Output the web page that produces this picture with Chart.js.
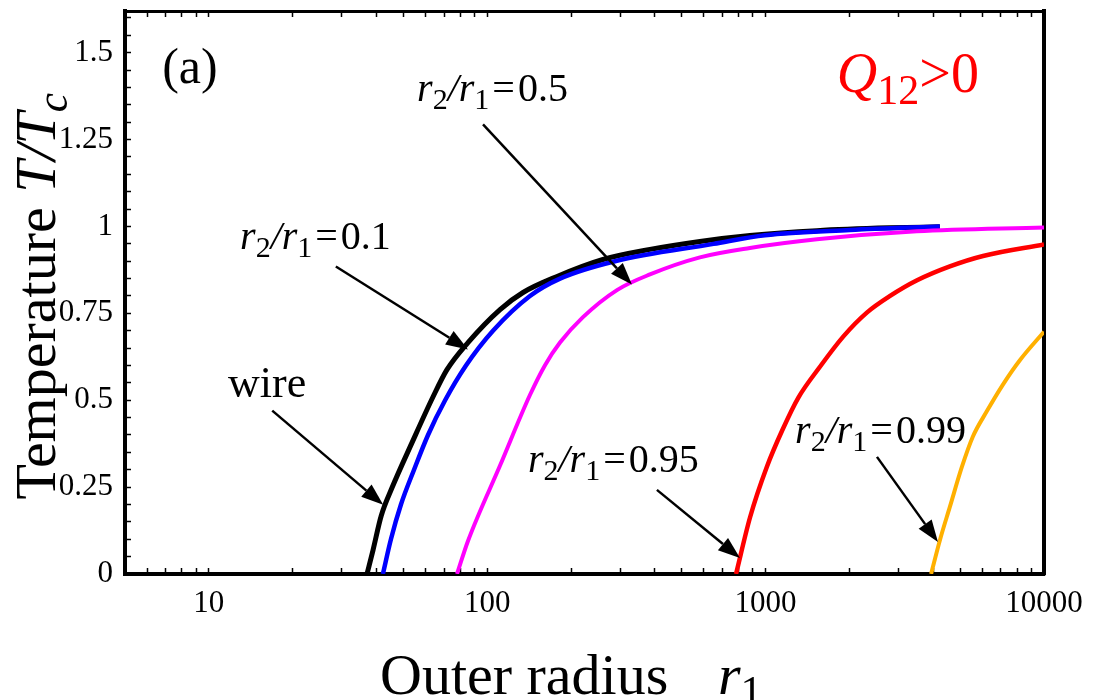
<!DOCTYPE html>
<html>
<head>
<meta charset="utf-8">
<title>Temperature vs outer radius</title>
<script src="https://cdn.jsdelivr.net/npm/chart.js@4.4.0/dist/chart.umd.min.js"></script>
<style>
  html, body { margin: 0; padding: 0; background: #fff; }
  #wrap { width: 1094px; height: 700px; }
</style>
</head>
<body>
<div id="wrap"><canvas id="tempChart" width="1094" height="700"></canvas></div>
<script>
// outer radius r1 and reduced temperature T/Tc along each curve
var wireR = [37.0, 38.9, 41.6, 45.5, 53.7, 63.9, 71.7, 85.3, 111.2, 134.5, 178.1, 260.5, 384.2, 580.8, 878.5, 1529, 2784, 4225];
var wireT = [0, 0.069, 0.167, 0.248, 0.378, 0.510, 0.588, 0.666, 0.761, 0.810, 0.856, 0.905, 0.934, 0.957, 0.974, 0.988, 0.996, 0.999];

var r01R = [42.2, 45.1, 49.0, 54.6, 61.3, 70.6, 83.9, 104.9, 142.4, 182.6, 287.7, 650, 994, 2010, 4225];
var r01T = [0, 0.1, 0.2, 0.3, 0.4, 0.5, 0.6, 0.7, 0.8, 0.85, 0.9, 0.95, 0.975, 0.99, 1.0];

var r05R = [77.9, 85.3, 111.2, 142.4, 161.3, 182.6, 220.8, 292.5, 384.2, 580.8, 878.5, 1529, 3493, 10000];
var r05T = [0, 0.095, 0.312, 0.515, 0.601, 0.666, 0.739, 0.817, 0.862, 0.911, 0.938, 0.963, 0.986, 0.997];

var r095R = [783, 880, 1010, 1150, 1310, 1570, 1900, 2310, 2800, 3500, 4590, 6040, 10000];
var r095T = [0, 0.164, 0.308, 0.415, 0.507, 0.597, 0.683, 0.752, 0.800, 0.845, 0.885, 0.915, 0.948];

var r099R = [3930, 4230, 4590, 5070, 5550, 6230, 7120, 8190, 10000];
var r099T = [0, 0.098, 0.193, 0.308, 0.395, 0.468, 0.545, 0.615, 0.697];

// labelled ticks
var xMajorTicks = [10, 100, 1000, 10000];
var xTickLabels = ['10', '100', '1000', '10000'];
var yMajorTicks = [0, 0.25, 0.5, 0.75, 1, 1.25, 1.5];
var yTickLabels = ['0', '0.25', '0.5', '0.75', '1', '1.25', '1.5'];

// minor tick marks: 5..9, then 1..9 per decade up to 10000; every 0.05 on T
var xTickValues = [5, 6, 7, 8, 9];
[10, 100, 1000].forEach(function (d) {
  for (var k = 1; k <= 9; k++) xTickValues.push(k * d);
});
xTickValues.push(10000);
var yTickValues = [];
for (var j = 0; j <= 32; j++) yTickValues.push(Math.round(j * 5) / 100);

function pts(rs, ts) {
  return rs.map(function (r, i) { return { x: r, y: ts[i] }; });
}

function labelFor(v, majors, labels) {
  for (var i = 0; i < majors.length; i++) {
    if (Math.abs(v - majors[i]) < 1e-6 * Math.max(1, majors[i])) return labels[i];
  }
  return '';
}

var SERIF = '"Liberation Serif", "Times New Roman", serif';

// text made of runs: italic, subscript, extra gap after
function drawRich(ctx, x, y, parts, size, color) {
  var cx = x;
  ctx.fillStyle = color;
  ctx.textAlign = 'left';
  ctx.textBaseline = 'alphabetic';
  parts.forEach(function (p) {
    var fs = p.sub ? size * 0.75 : size;
    ctx.font = (p.it ? 'italic ' : '') + fs + 'px ' + SERIF;
    ctx.fillText(p.t, cx, y + (p.sub ? size * 0.2 : 0));
    cx += ctx.measureText(p.t).width + (p.gap || 0);
  });
}

function ratioParts(v) {
  return [
    { t: 'r', it: true }, { t: '2', sub: true }, { t: '/', it: true },
    { t: 'r', it: true }, { t: '1', sub: true, gap: 3 }, { t: '=', gap: 3 }, { t: v }
  ];
}

function drawArrow(ctx, x1, y1, x2, y2) {
  var ang = Math.atan2(y2 - y1, x2 - x1);
  var len = 22, half = 8;
  var bx = x2 - len * Math.cos(ang), by = y2 - len * Math.sin(ang);
  ctx.strokeStyle = '#000';
  ctx.lineWidth = 2.5;
  ctx.beginPath();
  ctx.moveTo(x1, y1);
  ctx.lineTo(bx, by);
  ctx.stroke();
  ctx.fillStyle = '#000';
  ctx.beginPath();
  ctx.moveTo(x2, y2);
  ctx.lineTo(bx + half * Math.sin(ang), by - half * Math.cos(ang));
  ctx.lineTo(bx - half * Math.sin(ang), by + half * Math.cos(ang));
  ctx.closePath();
  ctx.fill();
}

// labels with arrows, placed in data coordinates (r1, T/Tc)
var notes = [
  { parts: [{ t: 'wire' }], size: 44, at: [11.73, 0.510], tail: [16.9, 0.470], tip: [42.3, 0.199] },
  { parts: ratioParts('0.1'), size: 40, at: [12.95, 0.934], tail: [28.6, 0.885], tip: [85.3, 0.646] },
  { parts: ratioParts('0.5'), size: 40, at: [56.0, 1.360], tail: [96.6, 1.294], tip: [331, 0.833] },
  { parts: ratioParts('0.95'), size: 40, at: [140, 0.294], tail: [407, 0.242], tip: [809, 0.046] },
  { parts: ratioParts('0.99'), size: 40, at: [1276, 0.378], tail: [2512, 0.337], tip: [4160, 0.092] }
];

var annotate = {
  id: 'annotate',
  afterDatasetsDraw: function (chart) {
    var ctx = chart.ctx, xs = chart.scales.x, ys = chart.scales.y;
    var px = function (v) { return xs.getPixelForValue(v); };
    var py = function (v) { return ys.getPixelForValue(v); };
    ctx.save();
    notes.forEach(function (n) {
      drawRich(ctx, px(n.at[0]), py(n.at[1]), n.parts, n.size, '#000');
      drawArrow(ctx, px(n.tail[0]), py(n.tail[1]), px(n.tip[0]), py(n.tip[1]));
    });
    drawRich(ctx, px(6.8), py(1.412), [{ t: '(a)' }], 50, '#000');
    drawRich(ctx, px(1803), py(1.386),
      [{ t: 'Q', it: true }, { t: '12', sub: true }, { t: '>0' }], 56, '#ff0000');

    // axis titles
    var area = chart.chartArea;
    drawRich(ctx, 380, 694, [{ t: 'Outer radius' }], 58, '#000');
    drawRich(ctx, 718, 694, [{ t: 'r', it: true }, { t: '1', sub: true }], 58, '#000');
    ctx.translate(55, (area.top + area.bottom) / 2 + 207);
    ctx.rotate(-Math.PI / 2);
    drawRich(ctx, 0, 0, [{ t: 'Temperature ' }, { t: 'T/T', it: true }, { t: 'c', it: true, sub: true }], 58, '#000');
    ctx.restore();
  }
};

function line(label, rs, ts, color, width, order) {
  return {
    label: label, data: pts(rs, ts), borderColor: color, backgroundColor: color,
    borderWidth: width, pointRadius: 0, fill: false, tension: 0,
    cubicInterpolationMode: 'monotone', order: order
  };
}

// the frame is fixed, so drop the label overhang Chart.js reserves
function noOverhang(s) {
  s.paddingTop = 0; s.paddingBottom = 0; s.paddingLeft = 0; s.paddingRight = 0;
}

var tickFont = { family: SERIF, size: 31 };

new Chart(document.getElementById('tempChart'), {
  type: 'line',
  data: {
    datasets: [
      line('wire', wireR, wireT, '#000000', 5, 5),
      line('r2/r1=0.1', r01R, r01T, '#0000ff', 4.5, 4),
      line('r2/r1=0.5', r05R, r05T, '#ff00ff', 4, 3),
      line('r2/r1=0.95', r095R, r095T, '#ff0000', 4.5, 2),
      line('r2/r1=0.99', r099R, r099T, '#ffb000', 4, 1)
    ]
  },
  options: {
    responsive: false,
    devicePixelRatio: 1,
    animation: false,
    layout: { padding: 0, autoPadding: false },
    plugins: { legend: { display: false }, tooltip: { enabled: false } },
    scales: {
      x: {
        type: 'logarithmic', position: 'bottom', min: 5, max: 10000,
        afterBuildTicks: function (s) { s.ticks = xTickValues.map(function (v) { return { value: v }; }); },
        afterFit: function (s) { s.height = 126; noOverhang(s); },
        grid: { drawOnChartArea: false, tickLength: -6, tickWidth: 1.5, tickColor: '#000' },
        border: { width: 4, color: '#000' },
        ticks: {
          autoSkip: false, maxRotation: 0, padding: 17, color: '#000', font: tickFont,
          callback: function (v) { return labelFor(v, xMajorTicks, xTickLabels); }
        }
      },
      x2: {
        type: 'logarithmic', position: 'top', min: 5, max: 10000,
        afterBuildTicks: function (s) { s.ticks = xTickValues.map(function (v) { return { value: v }; }); },
        afterFit: function (s) { s.height = 11; noOverhang(s); },
        grid: { drawOnChartArea: false, tickLength: -6, tickWidth: 1.5, tickColor: '#000' },
        border: { width: 3, color: '#000' },
        ticks: { display: false }
      },
      y: {
        type: 'linear', position: 'left', min: 0, max: 1.62,
        afterBuildTicks: function (s) { s.ticks = yTickValues.map(function (v) { return { value: v }; }); },
        afterFit: function (s) { s.width = 125; noOverhang(s); },
        grid: { drawOnChartArea: false, tickLength: -6, tickWidth: 1.5, tickColor: '#000' },
        border: { width: 4, color: '#000' },
        ticks: {
          autoSkip: false, padding: 18, color: '#000', font: tickFont,
          callback: function (v) { return labelFor(v, yMajorTicks, yTickLabels); }
        }
      },
      y2: {
        type: 'linear', position: 'right', min: 0, max: 1.62,
        afterFit: function (s) { s.width = 50; noOverhang(s); },
        grid: { drawOnChartArea: false, drawTicks: false },
        border: { width: 4, color: '#000' },
        ticks: { display: false }
      }
    }
  },
  plugins: [annotate]
});
</script>
</body>
</html>
